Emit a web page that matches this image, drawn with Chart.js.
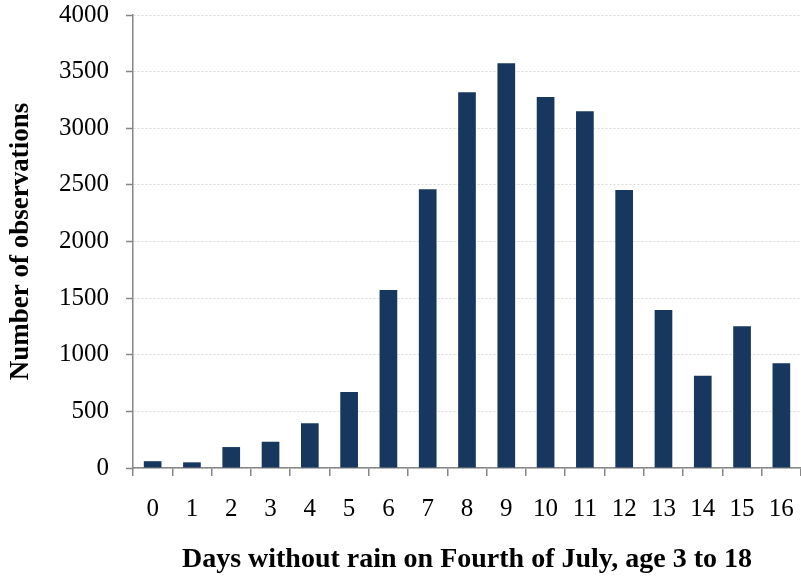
<!DOCTYPE html>
<html>
<head>
<meta charset="utf-8">
<script src="https://cdn.jsdelivr.net/npm/chart.js@4"></script>
<style>
  html, body { margin: 0; padding: 0; background: #fff; }
  #chart { display: block; }
</style>
</head>
<body>
<canvas id="chart" width="801" height="580"></canvas>
<script>
// categories: days without rain on July 4th
const days = ['0', '1', '2', '3', '4', '5', '6', '7', '8', '9', '10', '11', '12', '13', '14', '15', '16'];
// number of observations per category
const observations = [60, 50, 185, 232, 395, 671, 1572, 2461, 3317, 3573, 3276, 3150, 2455, 1395, 815, 1251, 924];
const yTicks = [0, 500, 1000, 1500, 2000, 2500, 3000, 3500, 4000];

const serif = "'Liberation Serif', 'Times New Roman', serif";
const axisGrey = '#868686';

const ctx = document.getElementById('chart').getContext('2d');
new Chart(ctx, {
  type: 'bar',
  data: {
    labels: days,
    datasets: [{
      label: 'Observations',
      data: observations,
      backgroundColor: '#17375e',
      borderWidth: 0,
      barPercentage: 0.45,
      categoryPercentage: 1
    }]
  },
  options: {
    responsive: false,
    animation: false,
    devicePixelRatio: 1,
    layout: { padding: { top: 0, right: 0, bottom: 0, left: 0 } },
    plugins: {
      legend: { display: false },
      tooltip: { enabled: false }
    },
    scales: {
      x: {
        grid: {
          drawOnChartArea: false,
          drawTicks: true,
          tickLength: 8,
          tickColor: axisGrey,
          lineWidth: 1.5
        },
        border: { display: true, color: axisGrey, width: 1.5 },
        ticks: {
          color: '#000',
          padding: 18,
          maxRotation: 0,
          font: { family: serif, size: 25 }
        },
        title: {
          display: true,
          text: 'Days without rain on Fourth of July, age 3 to 18',
          color: '#000',
          font: { family: serif, size: 28, weight: 'bold' },
          padding: { top: 0, bottom: 3 }
        },
        afterFit: (scale) => {
          scale.height = 112;
          scale.paddingLeft = 0;
          scale.paddingRight = 0;
        }
      },
      y: {
        min: 0,
        max: 4000,
        afterBuildTicks: (scale) => { scale.ticks = yTicks.map(v => ({ value: v })); },
        grid: {
          color: '#d9d9d9',
          lineWidth: 1,
          tickLength: 7,
          tickColor: axisGrey,
          tickWidth: 1.5,
          tickBorderDash: []
        },
        border: { display: true, color: axisGrey, width: 1.5, dash: [2, 2] },
        ticks: {
          color: '#000',
          padding: 17,
          font: { family: serif, size: 25 },
          callback: (v) => String(v)
        },
        title: {
          display: true,
          text: 'Number of observations',
          color: '#000',
          font: { family: serif, size: 27, weight: 'bold' },
          padding: { top: 5, bottom: 0 }
        },
        afterFit: (scale) => {
          scale.width = 133;
          scale.paddingTop = 15;
          scale.paddingBottom = 0;
        }
      }
    }
  }
});
</script>
</body>
</html>
